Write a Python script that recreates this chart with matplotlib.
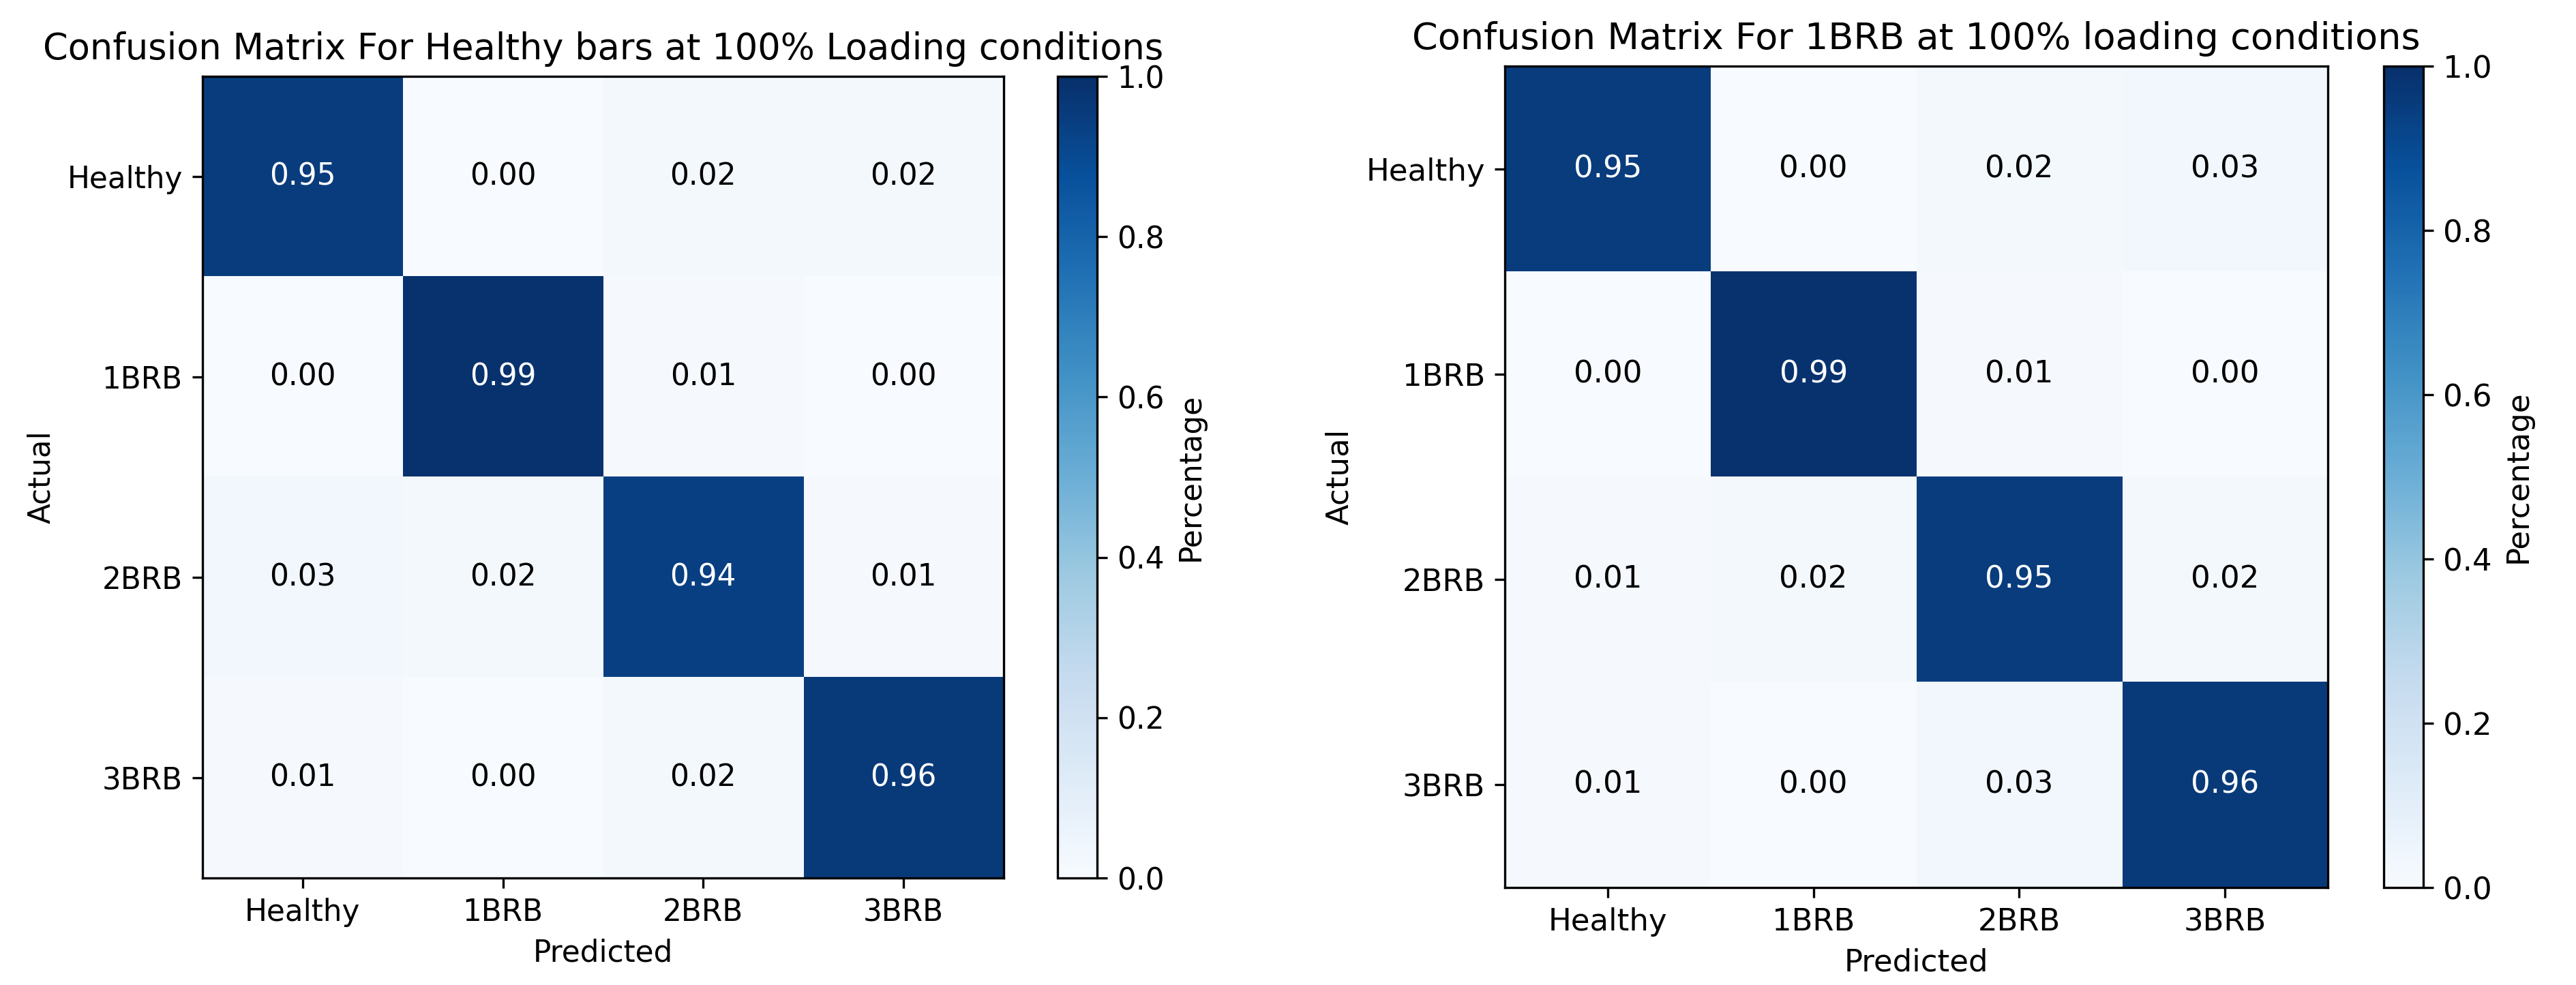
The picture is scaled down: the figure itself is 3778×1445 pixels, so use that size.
import numpy as np
import matplotlib
matplotlib.use("Agg")
import matplotlib.pyplot as plt

classes = ["Healthy", "1BRB", "2BRB", "3BRB"]

cm_healthy = [
    [0.95, 0.00, 0.02, 0.02],
    [0.00, 0.99, 0.01, 0.00],
    [0.03, 0.02, 0.94, 0.01],
    [0.01, 0.00, 0.02, 0.96],
]
cm_1brb = [
    [0.95, 0.00, 0.02, 0.03],
    [0.00, 0.99, 0.01, 0.00],
    [0.01, 0.02, 0.95, 0.02],
    [0.01, 0.00, 0.03, 0.96],
]
title_left = "Confusion Matrix For Healthy bars at 100% Loading conditions"
title_right = "Confusion Matrix For 1BRB at 100% loading conditions"
cbar_ticks = [0.0, 0.2, 0.4, 0.6, 0.8, 1.0]

plt.rcParams["font.family"] = ["DejaVu Sans"]

fig = plt.figure(figsize=(3779 / 300, 1445 / 300), dpi=300)


def panel(ax_rect, cb_rect, data, title, fs, tfs):
    ax = fig.add_axes(ax_rect)
    cax = fig.add_axes(cb_rect)
    arr = np.array(data)
    im = ax.imshow(arr, cmap="Blues", vmin=0, vmax=1, aspect="auto",
                   interpolation="nearest")
    n = len(classes)
    ax.set_xticks(range(n))
    ax.set_yticks(range(n))
    ax.set_xticklabels(classes, fontsize=fs)
    ax.set_yticklabels(classes, fontsize=fs)
    for i in range(n):
        for j in range(n):
            v = arr[i, j]
            ax.text(j, i, f"{v:.2f}", ha="center", va="center",
                    color="white" if v > 0.5 else "black", fontsize=fs)
    ax.set_xlabel("Predicted", fontsize=fs)
    ax.set_ylabel("Actual", fontsize=fs)
    ax.set_title(title, fontsize=tfs)
    cb = fig.colorbar(im, cax=cax, ticks=cbar_ticks)
    cb.ax.tick_params(labelsize=fs)
    cb.set_label("Percentage", fontsize=fs)
    return ax


panel([0.07859, 0.10865, 0.31093, 0.81384],
      [0.41043, 0.10865, 0.01535, 0.81384], cm_healthy, title_left, 10.5, 12.65)
panel([0.58402, 0.09896, 0.31940, 0.83391],
      [0.92511, 0.09896, 0.01535, 0.83391], cm_1brb, title_right, 10.8, 13.0)

fig.savefig("out.png", dpi=300)
